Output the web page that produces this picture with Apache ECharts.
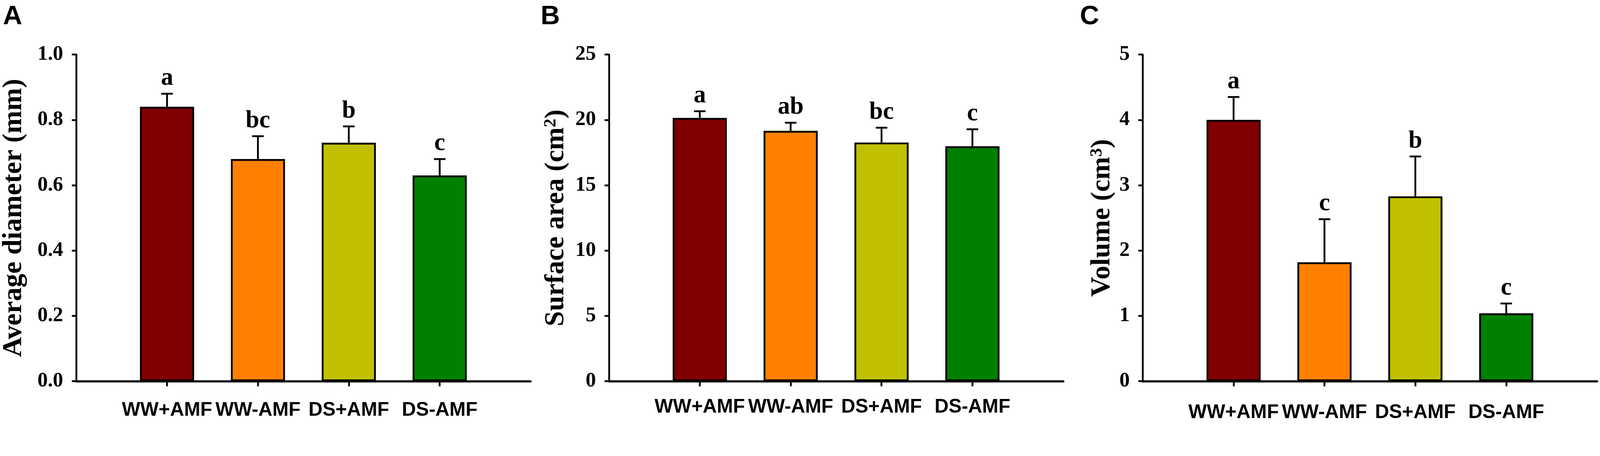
<!DOCTYPE html>
<html>
  <head>
    <meta charset="utf-8" />
    <script src="https://cdn.jsdelivr.net/npm/echarts@6/dist/echarts.min.js"></script>
    <style>
      html, body { margin: 0; padding: 0; background: #fff; overflow: hidden; }
    </style>
  </head>
  <body>
  <div id="main" style="width: 100vw;height:100vh;"></div>

  <script type="text/javascript">
      // data
      var categories = ['WW+AMF', 'WW-AMF', 'DS+AMF', 'DS-AMF'];
      var barColors = ['#800000', '#FF8000', '#C0C000', '#008000'];

      var diameterMean = [0.84, 0.68, 0.73, 0.63];
      var diameterErr = [0.04, 0.07, 0.05, 0.05];
      var diameterLetters = ['a', 'bc', 'b', 'c'];

      var areaMean = [20.15, 19.16, 18.27, 17.98];
      var areaErr = [0.51, 0.62, 1.13, 1.30];
      var areaLetters = ['a', 'ab', 'bc', 'c'];

      var volumeMean = [4.00, 1.82, 2.83, 1.04];
      var volumeErr = [0.35, 0.66, 0.61, 0.15];
      var volumeLetters = ['a', 'c', 'b', 'c'];

      var SERIF = '"Liberation Serif", "Times New Roman", serif';
      var SANS = 'Arial, "Liberation Sans", sans-serif';

      // layout is measured on a 4433 px wide figure; scale to the real window
      var s = window.innerWidth / 4433;
      function px(v) { return v * s; }

      // empty slots at both ends so the bars sit one step in from each end
      var xData = [''].concat(categories).concat(['']);

      function errRender(letters) {
        return function (params, api) {
          var x = api.value(0);
          var base = api.coord([x, api.value(1)]);
          var top = api.coord([x, api.value(2)]);
          return {
            type: 'group',
            children: [
              { type: 'line', shape: { x1: base[0], y1: base[1], x2: top[0], y2: top[1] },
                style: { stroke: '#000', lineWidth: px(5) } },
              { type: 'line', shape: { x1: top[0] - px(16), y1: top[1], x2: top[0] + px(16), y2: top[1] },
                style: { stroke: '#000', lineWidth: px(5) } },
              { type: 'text', x: top[0], y: top[1] - px(8),
                style: { text: letters[params.dataIndex], fill: '#000', fontSize: px(68),
                         fontWeight: 'bold', fontFamily: SERIF, align: 'center', verticalAlign: 'bottom' } }
            ]
          };
        };
      }

      function barData(means) {
        return means.map(function (v, i) {
          return { value: [i + 1, v], itemStyle: { color: barColors[i] } };
        });
      }

      function errData(means, errs) {
        return means.map(function (v, i) { return [i + 1, v, v + errs[i]]; });
      }

      var lefts = [211, 1687, 3166];
      var labelMargins = [54, 45, 60];
      var nameGaps = [134, 108, 74];

      var yAxes = [
        { min: 0, max: 1, interval: 0.2, name: 'Average diameter (mm)', fmt: function (v) { return v.toFixed(1); } },
        { min: 0, max: 25, interval: 5, name: 'Surface area (cm{sup|2})', fmt: function (v) { return v; } },
        { min: 0, max: 5, interval: 1, name: 'Volume (cm{sup|3})', fmt: function (v) { return v; } }
      ];

      var option = {
        backgroundColor: '#fff',
        animation: false,
        title: [
          { text: 'A', left: px(8), top: px(10) },
          { text: 'B', left: px(1498), top: px(10) },
          { text: 'C', left: px(2992), top: px(10) }
        ].map(function (t) {
          t.padding = 0;
          t.textStyle = { fontSize: px(74), fontWeight: 'bold', fontFamily: SANS, color: '#000' };
          return t;
        }),
        grid: lefts.map(function (l) {
          return { left: px(l), top: px(151), width: px(1259), height: px(905), containLabel: false };
        }),
        xAxis: lefts.map(function (l, k) {
          return {
            type: 'category',
            gridIndex: k,
            data: xData,
            boundaryGap: false,
            axisLine: { lineStyle: { color: '#000', width: px(6) } },
            axisTick: { length: px(14), lineStyle: { color: '#000', width: px(5) },
                        interval: function (i) { return i >= 1 && i <= 4; } },
            axisLabel: { interval: 0, margin: px(labelMargins[k]), color: '#000', fontSize: px(54),
                         fontWeight: 'bold', fontFamily: SANS },
            splitLine: { show: false }
          };
        }),
        yAxis: yAxes.map(function (a, k) {
          return {
            type: 'value',
            gridIndex: k,
            min: a.min,
            max: a.max,
            interval: a.interval,
            name: a.name,
            nameLocation: 'middle',
            nameGap: px(nameGaps[k]),
            nameTextStyle: {
              color: '#000', fontSize: px(76), fontWeight: 'bold', fontFamily: SERIF,
              rich: { sup: { fontSize: px(48), fontWeight: 'bold', fontFamily: SERIF, color: '#000', verticalAlign: 'top' } }
            },
            axisLine: { show: true, lineStyle: { color: '#000', width: px(5) } },
            axisTick: { show: true, length: px(12), lineStyle: { color: '#000', width: px(5) } },
            axisLabel: { margin: px(36), color: '#000', fontSize: px(57), fontWeight: 'bold', fontFamily: SERIF,
                         formatter: a.fmt },
            splitLine: { show: false }
          };
        }),
        series: [
          { type: 'bar', xAxisIndex: 0, yAxisIndex: 0, barWidth: px(150), data: barData(diameterMean),
            itemStyle: { borderColor: '#000', borderWidth: px(5) } },
          { type: 'bar', xAxisIndex: 1, yAxisIndex: 1, barWidth: px(150), data: barData(areaMean),
            itemStyle: { borderColor: '#000', borderWidth: px(5) } },
          { type: 'bar', xAxisIndex: 2, yAxisIndex: 2, barWidth: px(150), data: barData(volumeMean),
            itemStyle: { borderColor: '#000', borderWidth: px(5) } },
          { type: 'custom', xAxisIndex: 0, yAxisIndex: 0, z: 3, renderItem: errRender(diameterLetters),
            data: errData(diameterMean, diameterErr), encode: { x: 0, y: [1, 2] } },
          { type: 'custom', xAxisIndex: 1, yAxisIndex: 1, z: 3, renderItem: errRender(areaLetters),
            data: errData(areaMean, areaErr), encode: { x: 0, y: [1, 2] } },
          { type: 'custom', xAxisIndex: 2, yAxisIndex: 2, z: 3, renderItem: errRender(volumeLetters),
            data: errData(volumeMean, volumeErr), encode: { x: 0, y: [1, 2] } }
        ]
      };

      var myChart = echarts.init(document.getElementById('main'), null, { renderer: 'canvas' });
      myChart.setOption(option);
  </script>
</body>
</html>
